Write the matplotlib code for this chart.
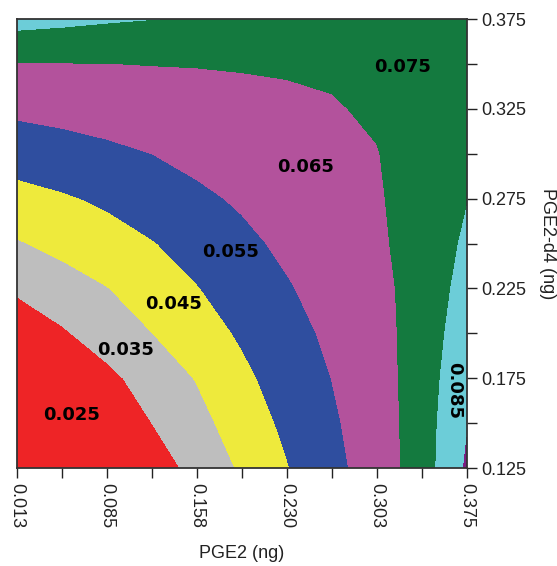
import matplotlib
matplotlib.use('Agg')
import matplotlib.pyplot as plt
import numpy as np

# grid nodes of the response surface (ng)
pge2 = [0.013, 0.0492, 0.0854, 0.1216, 0.1578, 0.194, 0.2302, 0.2664, 0.3026, 0.3388, 0.375]
pge2_d4 = [0.125, 0.150, 0.175, 0.200, 0.225, 0.250, 0.275, 0.300, 0.325, 0.350, 0.375]

# response, one row per PGE2-d4 value (bottom row first)
response = [
    [0.0010, 0.0085, 0.0167, 0.0249, 0.0331, 0.0413, 0.0495, 0.0574, 0.0645, 0.0750, 0.0913],
    [0.0089, 0.0159, 0.0230, 0.0300, 0.0370, 0.0445, 0.0520, 0.0588, 0.0647, 0.0752, 0.0894],
    [0.0158, 0.0214, 0.0277, 0.0341, 0.0405, 0.0479, 0.0542, 0.0601, 0.0655, 0.0750, 0.0874],
    [0.0234, 0.0289, 0.0344, 0.0399, 0.0456, 0.0512, 0.0565, 0.0619, 0.0663, 0.0745, 0.0854],
    [0.0315, 0.0356, 0.0397, 0.0446, 0.0496, 0.0544, 0.0592, 0.0636, 0.0671, 0.0742, 0.0833],
    [0.0392, 0.0427, 0.0461, 0.0495, 0.0536, 0.0579, 0.0618, 0.0652, 0.0684, 0.0741, 0.0814],
    [0.0467, 0.0489, 0.0515, 0.0549, 0.0582, 0.0612, 0.0639, 0.0666, 0.0691, 0.0740, 0.0797],
    [0.0543, 0.0562, 0.0581, 0.0600, 0.0625, 0.0643, 0.0662, 0.0680, 0.0697, 0.0744, 0.0788],
    [0.0619, 0.0629, 0.0640, 0.0651, 0.0664, 0.0675, 0.0685, 0.0694, 0.0711, 0.0748, 0.0779],
    [0.0695, 0.0697, 0.0699, 0.0702, 0.07035, 0.0706, 0.0708, 0.0712, 0.0729, 0.0752, 0.0772],
    [0.0835, 0.0823, 0.0810, 0.0801, 0.0795, 0.0790, 0.0785, 0.0780, 0.0775, 0.0770, 0.0765],
]

levels = [0.0, 0.03, 0.04, 0.05, 0.06, 0.07, 0.08, 0.09, 0.10]
band_colors = ['#ee2426', '#bebebe', '#eeea3c', '#2f4e9f', '#b3529c',
               '#147a3f', '#6ccdd8', '#7a1e82']

band_labels = ['0.025', '0.035', '0.045', '0.055', '0.065', '0.075', '0.085']
label_x = [0.0572, 0.1000, 0.1389, 0.1851, 0.2455, 0.3235, 0.3645]
label_y = [0.1545, 0.1907, 0.2163, 0.2453, 0.2926, 0.3483, 0.1684]
label_rot = [0, 0, 0, 0, 0, 0, -90]

X, Y = np.meshgrid(pge2, pge2_d4)
Z = np.array(response)

fig = plt.figure(figsize=(5.57, 5.66), dpi=100)
ax = fig.add_axes([0.0305, 0.1731, 0.8079, 0.7933])
ax.contourf(X, Y, Z, levels=levels, colors=band_colors, antialiased=False)

for txt, lx, ly, rot in zip(band_labels, label_x, label_y, label_rot):
    ax.text(lx, ly, txt, ha='center', va='center', rotation=rot,
            fontsize=13, fontweight='bold', family='DejaVu Sans', color='black')

ax.set_xlim(pge2[0], pge2[-1])
ax.set_ylim(pge2_d4[0], pge2_d4[-1])

ax.set_xticks(pge2[::2])
ax.set_xticklabels(['%.3f' % v for v in pge2[::2]], rotation=-90,
                   family='Liberation Sans', fontsize=13, color='#222222')
ax.set_xticks(pge2[1::2], minor=True)

ax.yaxis.tick_right()
ax.yaxis.set_label_position('right')
ax.set_yticks(pge2_d4[::2])
ax.set_yticklabels(['%.3f' % v for v in pge2_d4[::2]],
                   family='Liberation Sans', fontsize=13, color='#222222')
ax.set_yticks(pge2_d4[1::2], minor=True)

ax.tick_params(which='both', direction='out', length=7, width=1, colors='#222222')
ax.tick_params(axis='x', which='major', pad=4, labelcolor='#222222')
ax.tick_params(axis='y', which='major', pad=3, labelcolor='#222222')

ax.set_xlabel('PGE2 (ng)', family='Liberation Sans', fontsize=13, color='#222222', labelpad=12)
ax.set_ylabel('PGE2-d4 (ng)', family='Liberation Sans', fontsize=13, color='#222222',
              rotation=-90, labelpad=22)

for sp in ax.spines.values():
    sp.set_linewidth(1.3)
    sp.set_color('#333333')

fig.savefig('out.png', dpi=100)
